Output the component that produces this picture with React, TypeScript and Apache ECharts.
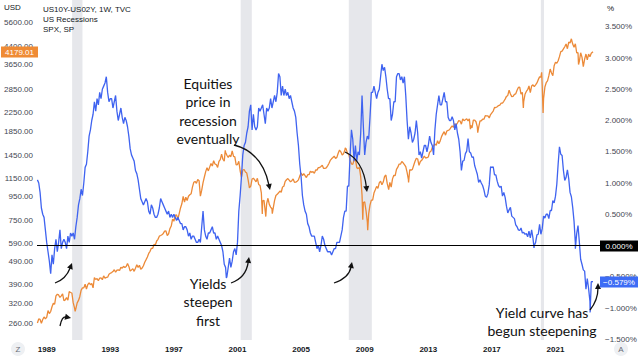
import React, { useEffect, useRef } from "react";
import * as echarts from "echarts";

// first value of each monthly list is the May 1988 month-end
const START_YEAR = 1988;
const START_MONTH = 5;

// S&P 500 (SPX) month-end closes
const spxMonthly = [
  262.2, 273.5, 272.0, 261.5, 271.9, 279.0, 273.7, 277.7,
  297.5, 288.9, 294.9, 309.6, 320.5, 318.0, 346.1, 351.5, 349.2, 340.4, 346.0, 353.4,
  329.1, 331.9, 339.9, 330.8, 361.2, 358.0, 356.2, 322.6, 306.1, 304.0, 322.2, 330.2,
  343.9, 367.1, 375.2, 375.3, 389.8, 371.2, 387.8, 395.4, 387.9, 392.5, 375.2, 417.1,
  408.8, 412.7, 403.7, 414.9, 415.4, 408.1, 424.2, 414.0, 417.8, 418.7, 431.4, 435.7,
  438.8, 443.4, 451.7, 440.2, 450.2, 451.0, 448.1, 463.6, 458.9, 467.8, 461.8, 466.5,
  481.6, 467.1, 445.8, 450.9, 456.5, 444.3, 458.3, 475.5, 462.7, 472.4, 453.7, 459.3,
  470.4, 487.4, 500.7, 514.7, 533.4, 544.8, 562.1, 561.9, 584.4, 581.5, 605.4, 615.9,
  636.0, 640.4, 645.5, 654.2, 669.1, 670.6, 639.9, 652.0, 687.3, 705.3, 757.0, 740.7,
  786.2, 790.8, 757.1, 801.3, 848.3, 885.1, 954.3, 899.5, 947.3, 914.6, 955.4, 970.4,
  980.3, 1049.3, 1101.8, 1111.8, 1090.8, 1133.8, 1120.7, 957.3, 1017.0, 1098.7, 1163.6, 1229.2,
  1279.6, 1238.3, 1286.4, 1335.2, 1301.8, 1372.7, 1328.7, 1320.4, 1282.7, 1362.9, 1389.0, 1469.3,
  1394.5, 1366.4, 1498.6, 1452.4, 1420.6, 1454.6, 1430.8, 1517.7, 1436.5, 1429.4, 1315.2, 1320.3,
  1366.0, 1239.9, 1160.3, 1249.5, 1255.8, 1224.4, 1211.2, 1133.6, 1040.9, 1059.8, 1139.5, 1148.1,
  1130.2, 1106.7, 1147.4, 1076.9, 1067.1, 989.8, 911.6, 916.1, 815.3, 885.8, 936.3, 879.8,
  855.7, 841.2, 848.2, 916.9, 963.6, 974.5, 990.3, 1008.0, 996.0, 1050.7, 1058.2, 1111.9,
  1131.1, 1144.9, 1126.2, 1107.3, 1120.7, 1140.8, 1101.7, 1104.2, 1114.6, 1130.2, 1173.8, 1211.9,
  1181.3, 1203.6, 1180.6, 1156.9, 1191.5, 1191.3, 1234.2, 1220.3, 1228.8, 1207.0, 1249.5, 1248.3,
  1280.1, 1280.7, 1294.9, 1310.6, 1270.1, 1270.2, 1276.7, 1303.8, 1335.9, 1377.9, 1400.6, 1418.3,
  1438.2, 1406.8, 1420.9, 1482.4, 1530.6, 1503.4, 1455.3, 1474.0, 1526.8, 1549.4, 1481.1, 1468.4,
  1378.6, 1330.6, 1322.7, 1385.6, 1400.4, 1280.0, 1267.4, 1282.8, 1166.4, 968.8, 896.2, 903.3,
  825.9, 735.1, 797.9, 872.8, 919.1, 919.3, 987.5, 1020.6, 1057.1, 1036.2, 1095.6, 1115.1,
  1073.9, 1104.5, 1169.4, 1186.7, 1089.4, 1030.7, 1101.6, 1049.3, 1141.2, 1183.3, 1180.6, 1257.6,
  1286.1, 1327.2, 1325.8, 1363.6, 1345.2, 1320.6, 1292.3, 1218.9, 1131.4, 1253.3, 1247.0, 1257.6,
  1312.4, 1365.7, 1408.5, 1397.9, 1310.3, 1362.2, 1379.3, 1406.6, 1440.7, 1412.2, 1416.2, 1426.2,
  1498.1, 1514.7, 1569.2, 1597.6, 1630.7, 1606.3, 1685.7, 1633.0, 1681.6, 1756.5, 1805.8, 1848.4,
  1782.6, 1859.5, 1872.3, 1884.0, 1923.6, 1960.2, 1930.7, 2003.4, 1972.3, 2018.1, 2067.6, 2058.9,
  1995.0, 2104.5, 2067.9, 2085.5, 2107.4, 2063.1, 2103.8, 1972.2, 1920.0, 2079.4, 2080.4, 2043.9,
  1940.2, 1932.2, 2059.7, 2065.3, 2096.9, 2098.9, 2173.6, 2171.0, 2168.3, 2126.2, 2199.0, 2238.8,
  2278.9, 2363.6, 2362.7, 2384.2, 2411.8, 2423.4, 2470.3, 2471.7, 2519.4, 2575.3, 2647.6, 2673.6,
  2823.8, 2713.8, 2640.9, 2648.1, 2705.3, 2718.4, 2816.3, 2901.5, 2914.0, 2711.7, 2760.2, 2506.9,
  2704.1, 2784.5, 2834.4, 2945.8, 2752.1, 2941.8, 2980.4, 2926.5, 2976.7, 3037.6, 3141.0, 3230.8,
  3225.5, 2954.2, 2584.6, 2912.4, 3044.3, 3100.3, 3271.1, 3500.3, 3363.0, 3270.0, 3621.6, 3756.1,
  3714.2, 3811.2, 3972.9, 4181.2, 4204.1, 4297.5, 4395.3, 4522.7, 4307.5, 4605.4, 4567.0, 4766.2,
  4515.6, 4373.9, 4530.4, 4131.9, 4132.2, 3785.4, 4130.3, 3955.0, 3585.6, 3872.0, 4080.1, 3839.5,
  4076.6, 3970.2, 4109.3,
];

// intra-month weekly extremes [decimal year, SPX]
const spxWeekly: [number, number][] = [
  [1990.79, 295.5], [2000.23, 1527.5], [2002.56, 797.7], [2002.78, 776.8],
  [2003.19, 800.7], [2007.78, 1565.2], [2008.88, 752.4], [2009.19, 676.5],
  [2010.51, 1022.6], [2011.76, 1099.2], [2015.65, 1893.2], [2016.11, 1829.1],
  [2018.98, 2351.1], [2020.13, 3386.2], [2020.22, 2237.4], [2022.0, 4796.6],
  [2022.45, 3666.8], [2022.78, 3577.0], [2023.36, 4179.01],
];

// US10Y - US02Y spread (%) month-end
const spreadMonthly = [
  1.05, 1.0, 0.85, 0.6, 0.5, 0.45, 0.25, 0.05,
  -0.1, -0.25, -0.45, -0.15, -0.3, -0.05, 0.1, -0.1, 0.05, 0.25, -0.05, 0.05,
  0.1, 0.05, -0.05, 0.15, 0.05, 0.2, 0.15, 0.2, 0.1, 0.3, 0.45, 0.65,
  0.75, 0.9, 0.8, 1.0, 1.25, 1.3, 1.5, 1.75, 1.85, 2.0, 2.1, 2.3,
  2.15, 2.35, 2.25, 2.45, 2.35, 2.5, 2.55, 2.6, 2.7, 2.45, 2.3, 2.35,
  2.35, 2.2, 2.3, 2.4, 2.15, 2.0, 2.1, 2.2, 2.05, 1.95, 2.05, 2.0,
  1.9, 1.75, 1.55, 1.45, 1.4, 1.35, 1.2, 1.15, 1.05, 0.9, 0.75, 0.7,
  0.65, 0.7, 0.75, 0.7, 0.55, 0.5, 0.65, 0.6, 0.5, 0.45, 0.45, 0.5,
  0.6, 0.75, 0.7, 0.65, 0.6, 0.55, 0.5, 0.55, 0.45, 0.5, 0.45, 0.5,
  0.45, 0.4, 0.45, 0.4, 0.35, 0.35, 0.25, 0.3, 0.3, 0.25, 0.15, 0.2,
  0.1, 0.15, 0.15, 0.1, 0.05, 0.05, 0.1, 0.05, 0.3, 0.55, 0.25, 0.15,
  0.1, 0.2, 0.2, 0.25, 0.3, 0.2, 0.2, 0.1, 0.15, 0.1, 0.05, 0.0,
  -0.1, -0.3, -0.35, -0.5, -0.35, -0.2, -0.35, -0.25, -0.1, -0.05, -0.15, 0.05,
  0.55, 0.8, 1.1, 1.45, 1.6, 1.65, 1.8, 1.9, 2.15, 2.25, 1.85, 2.1,
  1.9, 1.85, 1.9, 2.2, 2.15, 2.2, 2.25, 2.1, 1.95, 2.2, 2.15, 2.2,
  2.35, 2.2, 2.3, 2.4, 2.3, 2.45, 2.75, 2.7, 2.4, 2.55, 2.4, 2.5,
  2.4, 2.45, 2.35, 2.4, 2.3, 2.2, 2.15, 2.05, 1.8, 1.6, 1.3, 1.1,
  0.8, 0.65, 0.55, 0.5, 0.35, 0.3, 0.2, 0.15, 0.15, 0.15, 0.05, -0.05,
  0.0, -0.1, 0.0, 0.15, 0.1, 0.0, -0.05, -0.1, -0.1, -0.1, -0.15, -0.1,
  -0.05, -0.05, 0.05, 0.05, 0.05, 0.15, 0.25, 0.45, 0.55, 0.55, 0.95, 0.95,
  1.45, 1.85, 1.7, 1.35, 1.6, 1.35, 1.5, 1.45, 1.8, 2.4, 1.9, 1.45,
  1.65, 1.75, 1.7, 2.05, 2.45, 2.45, 2.55, 2.45, 2.35, 2.45, 2.5, 2.7,
  2.9, 2.8, 2.85, 2.7, 2.5, 2.35, 2.35, 2.0, 2.1, 2.3, 2.3, 2.7,
  2.75, 2.75, 2.65, 2.7, 2.6, 2.7, 2.4, 2.0, 1.7, 1.9, 1.8, 1.65,
  1.7, 1.8, 2.0, 1.8, 1.45, 1.5, 1.4, 1.5, 1.6, 1.6, 1.5, 1.6,
  1.75, 1.65, 1.6, 1.45, 1.85, 2.1, 2.25, 2.4, 2.25, 2.25, 2.35, 2.45,
  2.3, 2.3, 2.05, 2.0, 2.0, 2.06, 2.0, 1.85, 1.95, 1.8, 1.7, 1.5,
  1.2, 1.35, 1.36, 1.47, 1.51, 1.71, 1.5, 1.48, 1.41, 1.42, 1.28, 1.21,
  1.14, 1.01, 1.05, 1.0, 0.96, 0.89, 0.79, 0.77, 0.83, 0.97, 1.26, 1.25,
  1.26, 1.13, 1.13, 1.03, 0.96, 0.93, 0.95, 0.79, 0.85, 0.77, 0.63, 0.52,
  0.57, 0.61, 0.47, 0.45, 0.43, 0.33, 0.3, 0.25, 0.24, 0.28, 0.2, 0.21,
  0.18, 0.19, 0.14, 0.23, 0.12, 0.25, 0.12, 0.0, 0.05, 0.17, 0.18, 0.34,
  0.18, 0.27, 0.47, 0.44, 0.5, 0.5, 0.43, 0.56, 0.56, 0.72, 0.68, 0.79,
  0.98, 1.3, 1.58, 1.46, 1.44, 1.2, 1.04, 1.09, 1.21, 1.07, 0.85, 0.78,
  0.61, 0.39, 0.04, 0.19, 0.32, 0.06, -0.22, -0.3, -0.39, -0.41, -0.7, -0.53,
  -0.69, -0.89, -0.58,
];

const spreadWeekly: [number, number][] = [
  [2000.3, -0.52], [2010.1, 2.91], [2019.65, -0.04], [2022.25, -0.05],
  [2023.18, -1.07], [2023.36, -0.579],
];

const yearLabels = [1989, 1993, 1997, 2001, 2005, 2009, 2013, 2017, 2021];
const usdTicks = [260, 320, 390, 490, 590, 750, 950, 1150, 1450, 1850, 2250, 2850, 3650, 4400, 5600];
const pctTicks = [-1.5, -1, -0.5, 0, 0.5, 1, 1.5, 2, 2.5, 3, 3.5];
const recessions: [number, number][] = [
  [1990.6, 1991.25], [2001.2, 2001.9], [2008.0, 2009.45], [2020.08, 2020.28],
];

const toSeries = (monthly: number[], weekly: [number, number][]) => {
  const pts: [number, number][] = monthly.map((v, i) => [START_YEAR + (START_MONTH + i) / 12, v]);
  return pts.concat(weekly).sort((a, b) => a[0] - b[0]);
};

const ORANGE = "#ec8a38";
const BLUE = "#3f63f0";
const UI_FONT = "'Liberation Sans', Arial, sans-serif";
const NOTE_FONT = "Lato, 'Open Sans', sans-serif";

function arrow(x1: number, y1: number, cx: number, cy: number, x2: number, y2: number) {
  const dx = x2 - cx;
  const dy = y2 - cy;
  const len = Math.sqrt(dx * dx + dy * dy) || 1;
  const ux = dx / len;
  const uy = dy / len;
  const hl = 6;
  const hw = 3;
  const bx = x2 - ux * hl;
  const by = y2 - uy * hl;
  return [
    {
      type: "bezierCurve",
      shape: { x1, y1, cpx1: cx, cpy1: cy, x2: bx + ux * 1, y2: by + uy * 1 },
      style: { stroke: "#111", lineWidth: 1.3, fill: null },
      z: 100,
    },
    {
      type: "polygon",
      shape: {
        points: [
          [x2, y2],
          [bx - uy * hw, by + ux * hw],
          [bx + uy * hw, by - ux * hw],
        ],
      },
      style: { fill: "#111" },
      z: 100,
    },
  ];
}

function note(text: string, x: number, y: number) {
  return {
    type: "text",
    x,
    y,
    z: 100,
    style: {
      text,
      fill: "#111",
      font: `14px ${NOTE_FONT}`,
      align: "center",
      verticalAlign: "top",
      lineHeight: 18.5,
    },
  };
}

function uiText(text: string, x: number, y: number, extra: any = {}) {
  return {
    type: "text",
    x,
    y,
    z: 100,
    style: { text, fill: "#131722", font: `8px ${UI_FONT}`, align: "left", verticalAlign: "middle", ...extra },
  };
}

function tag(text: string, x: number, y: number, w: number, fill: string) {
  return [
    { type: "rect", shape: { x, y, width: w, height: 11 }, style: { fill }, z: 110 },
    {
      type: "text",
      x: x + w / 2,
      y: y + 5.8,
      z: 111,
      style: { text, fill: "#fff", font: `8px ${UI_FONT}`, align: "center", verticalAlign: "middle" },
    },
  ];
}

export default function App() {
  const ref = useRef<HTMLDivElement>(null);
  useEffect(() => {
    if (!ref.current) return;
    const chart = echarts.init(ref.current, undefined, { renderer: "svg" });
    const minus = (v: number) => (v < 0 ? "\u2212" : "") + Math.abs(v).toFixed(3) + "%";
    chart.setOption({
      animation: false,
      backgroundColor: "#fff",
      grid: { left: 37, right: 42, top: 0, bottom: 17 },
      xAxis: {
        type: "value",
        min: 1988.39,
        max: 2023.8,
        axisLine: { show: false },
        axisTick: { show: false },
        splitLine: { show: false },
        axisLabel: {
          customValues: yearLabels,
          formatter: (v: number) => String(v),
          color: "#131722",
          fontSize: 8,
          fontWeight: "bold",
          fontFamily: UI_FONT,
          margin: 5,
        },
      },
      yAxis: [
        {
          type: "log",
          min: 220.5,
          max: 7080,
          position: "left",
          axisLine: { show: false },
          axisTick: { show: false },
          splitLine: { show: false },
          axisLabel: {
            customValues: usdTicks,
            formatter: (v: number) => Number(v).toFixed(2),
            color: "#434651",
            fontSize: 8,
            fontFamily: UI_FONT,
            margin: 4,
          },
        },
        {
          type: "value",
          min: -1.512,
          max: 3.928,
          position: "right",
          axisLine: { show: false },
          axisTick: { show: false },
          splitLine: { show: false },
          axisLabel: {
            customValues: pctTicks,
            formatter: (v: number) => minus(v),
            color: "#434651",
            fontSize: 8,
            fontFamily: UI_FONT,
            margin: 5,
          },
        },
      ],
      series: [
        {
          name: "SPX",
          type: "line",
          yAxisIndex: 0,
          data: toSeries(spxMonthly, spxWeekly),
          showSymbol: false,
          lineStyle: { color: ORANGE, width: 1.3 },
          itemStyle: { color: ORANGE },
          z: 3,
          markArea: {
            silent: true,
            itemStyle: { color: "#e6e7eb" },
            data: recessions.map(([a, b]) => [{ xAxis: a }, { xAxis: b }]),
          },
        },
        {
          name: "US10Y-US02Y",
          type: "line",
          yAxisIndex: 1,
          data: toSeries(spreadMonthly, spreadWeekly),
          showSymbol: false,
          lineStyle: { color: BLUE, width: 1.3 },
          itemStyle: { color: BLUE },
          z: 4,
          markLine: {
            silent: true,
            symbol: "none",
            label: { show: false },
            lineStyle: { color: "#000", width: 1, type: "solid" },
            data: [{ yAxis: 0 }],
          },
        },
      ],
      graphic: [
        uiText("USD", 4, 7),
        uiText("US10Y-US02Y, 1W, TVC", 43, 9),
        uiText("US Recessions", 43, 19),
        uiText("SPX, SP", 43, 29),
        uiText("%", 607, 8),
        ...tag("4179.01", 1, 46.5, 37, "#ef8b35"),
        ...tag("0.000%", 600, 240.5, 38, "#000"),
        ...tag("\u22120.579%", 600, 276.5, 38, "#3d6cf5"),
        { type: "circle", shape: { cx: 18, cy: 349, r: 7 }, style: { fill: "#eef0f3" }, z: 100 },
        uiText("Z", 18, 349, { align: "center", fill: "#6a6d78" }),
        { type: "circle", shape: { cx: 621, cy: 349, r: 7 }, style: { fill: "#eef0f3" }, z: 100 },
        uiText("A", 621, 349, { align: "center", fill: "#6a6d78" }),
        note("Equities\nprice in\nrecession\neventually", 208, 74),
        note("Yields\nsteepen\nfirst", 208, 274),
        note("Yield curve has\nbegun steepening", 542, 303),
        ...arrow(55, 283, 66, 279, 72, 263),
        ...arrow(60, 326, 62, 316, 71, 318),
        ...arrow(234, 145, 262, 152, 270, 190),
        ...arrow(231, 283, 246, 278, 249, 257),
        ...arrow(345, 152, 363, 160, 367, 192),
        ...arrow(334, 283, 349, 278, 352, 262),
        ...arrow(590, 310, 598, 300, 598, 283),
      ],
    });
    return () => chart.dispose();
  }, []);
  return <div ref={ref} style={{ width: 642, height: 357, position: "absolute", left: 0, top: 0 }} />;
}
